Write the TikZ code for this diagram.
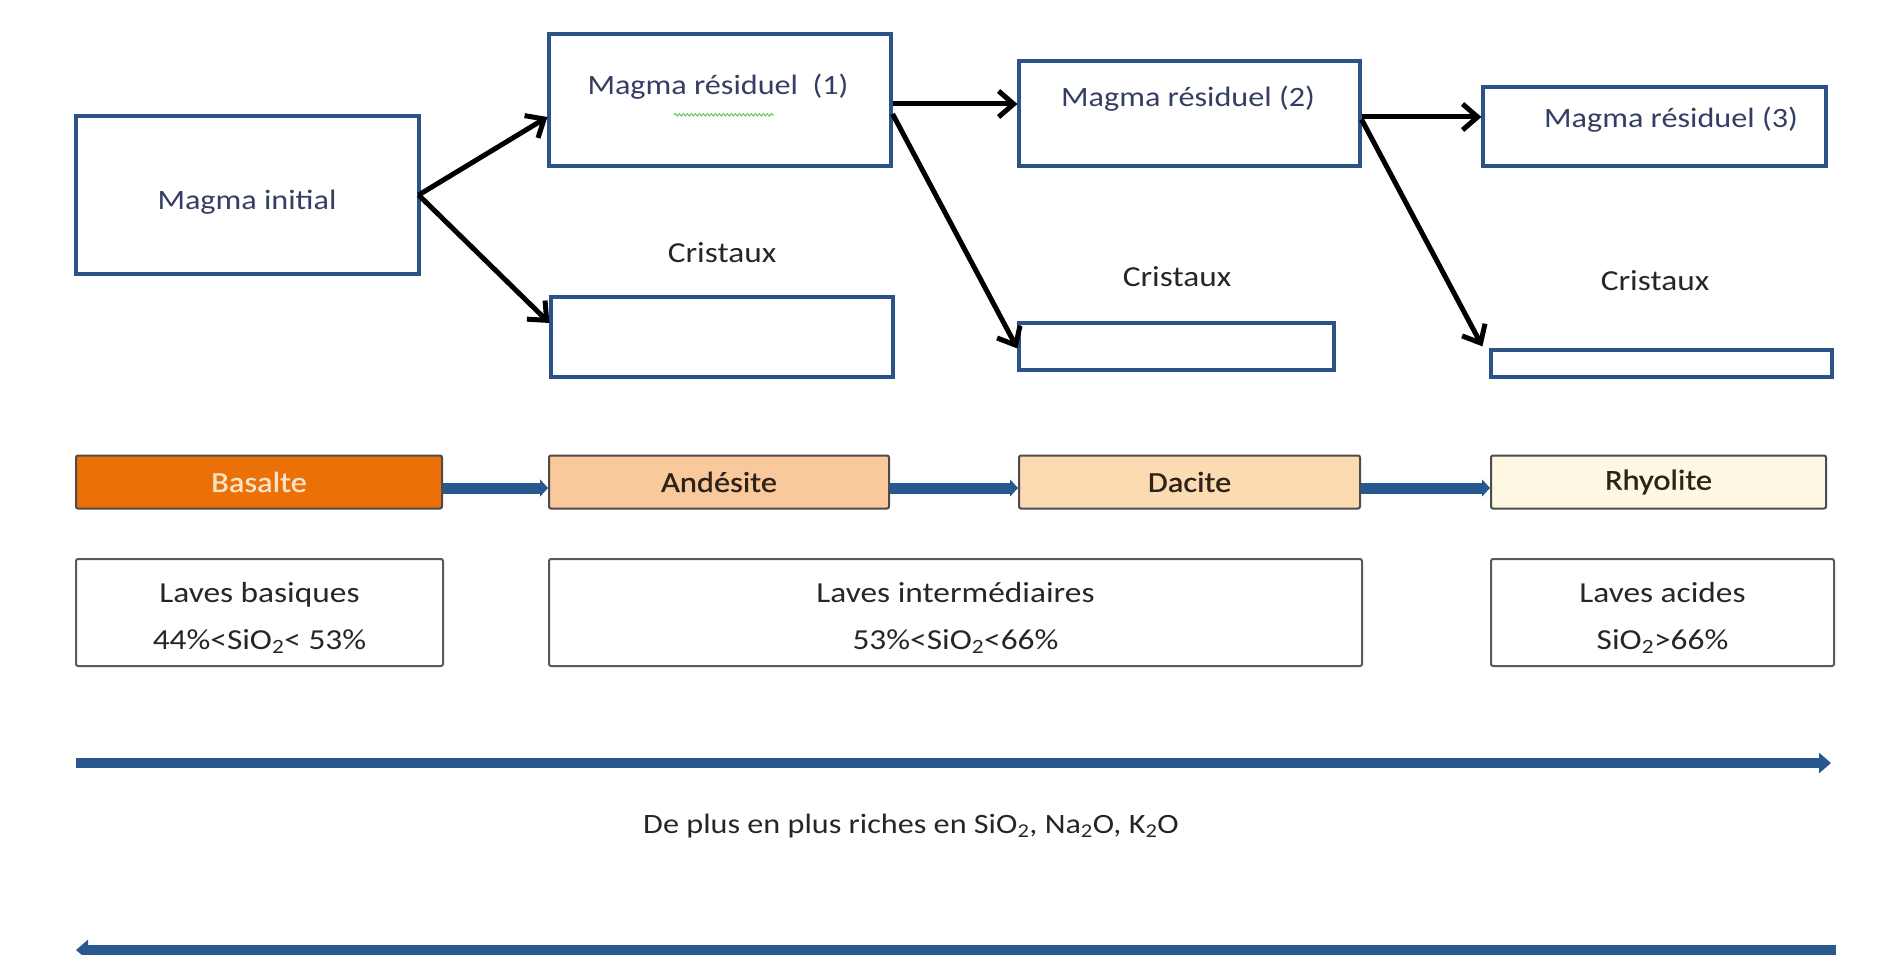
\documentclass[tikz,border=0pt]{standalone}
\usepackage{fontspec}
\setmainfont{Carlito}[FakeStretch=1.15]
\newfontfamily\rockfont{Carlito}[FakeStretch=1.12,FakeBold=0.8]
\usetikzlibrary{arrows.meta,decorations.pathmorphing}
\definecolor{boxblue}{RGB}{44,82,135}
\definecolor{txtblue}{RGB}{52,62,100}
\definecolor{arrblue}{RGB}{41,88,142}
\definecolor{basf}{RGB}{236,112,8}
\definecolor{basT}{RGB}{250,226,196}
\definecolor{andf}{RGB}{249,200,155}
\definecolor{dacf}{RGB}{252,218,178}
\definecolor{rhyf}{RGB}{254,247,226}
\definecolor{rockT}{RGB}{45,35,25}
\tikzset{
  magbox/.style={draw=boxblue,line width=3.2pt,minimum width=#1,inner sep=0pt},
  rockbox/.style={draw=black!70,line width=2pt,rounded corners=2pt,minimum height=53pt,inner sep=0pt,
     font=\rockfont\fontsize{29}{34}\selectfont,text=rockT},
  lavbox/.style={draw=black!65,line width=2pt,rounded corners=2pt,minimum height=107pt,minimum width=#1,inner sep=0pt},
  lavtxt/.style={align=center,font=\fontsize{29}{47}\selectfont,text=black!85,inner sep=0pt},
  magtxt/.style={font=\fontsize{28}{33}\selectfont,text=txtblue,inner sep=0pt},
  crtxt/.style={font=\fontsize{29}{34}\selectfont,text=black!85,inner sep=0pt},
  blk/.style={draw=black,line width=5pt,-{Straight Barb[length=15pt,width=26pt,line width=5pt]}},
  bluearr/.style={draw=arrblue,line width=11pt,-{Triangle[length=8pt,width=17pt]}},
  bigarr/.style={draw=arrblue,line width=10pt},
}
\begin{document}
\begin{tikzpicture}[x=1pt,y=-1pt]
\useasboundingbox (0,0) rectangle (1888,955);
% magma boxes
\node[magbox=343pt,minimum height=158pt] (mi) at (247.5,195) {};
\node[magtxt] (mit) at (247,202) {Magma initial};
\node[magbox=342pt,minimum height=132pt] (mr1) at (720,100) {};
\node[magtxt] (mr1t) at (718,87) {Magma résiduel \ (1)};
\node[magbox=341pt,minimum height=105pt] (mr2) at (1189.5,113.5) {};
\node[magtxt] (mr2t) at (1188,99) {Magma résiduel (2)};
\node[magbox=343pt,minimum height=79pt] (mr3) at (1654.5,126.5) {};
\node[magtxt] (mr3t) at (1671,120) {Magma résiduel (3)};
% spell-check underline
\draw[green!60!black!60,line width=1pt,decorate,decoration={snake,amplitude=1.2pt,segment length=4pt}]
  ([xshift=-44pt,yshift=-15pt]mr1t.south) -- ([xshift=56pt,yshift=-15pt]mr1t.south);
% crystal boxes
\node[magbox=342pt,minimum height=80pt] (cr1) at (722,337) {};
\node[crtxt] (c1t) at (722,253) {Cristaux};
\node[magbox=315pt,minimum height=47pt] (cr2) at (1176.5,346.5) {};
\node[crtxt] (c2t) at (1177,277) {Cristaux};
\node[magbox=341pt,minimum height=27pt] (cr3) at (1661.5,363.5) {};
\node[crtxt] (c3t) at (1655,281) {Cristaux};
% black arrows
\draw[blk] ([xshift=-2pt]mi.east) -- ([yshift=-17pt]mr1.west);
\draw[blk] ([xshift=-2pt]mi.east) -- ([yshift=14pt]cr1.west);
\draw[blk] ([yshift=-4pt]mr1.east) coordinate (a1) -- (a1 -| mr2.west);
\draw[blk] ([yshift=-14pt]mr1.east) -- ([yshift=-2pt]cr2.west);
\draw[blk] ([yshift=-3.5pt]mr2.east) coordinate (a2) -- (a2 -| mr3.west);
\draw[blk] ([yshift=-6pt]mr2.east) -- ([xshift=-7pt,yshift=2pt]cr3.north west);
% rock row
\node[rockbox,fill=basf,text=basT,minimum width=366pt] (bas) at (259,482) {Basalte};
\node[rockbox,fill=andf,minimum width=340pt] (and) at (719,482) {Andésite};
\node[rockbox,fill=dacf,minimum width=341pt] (dac) at (1189.5,482) {Dacite};
\node[rockbox,fill=rhyf,minimum width=335pt] (rhy) at (1658.5,482) {Rhyolite};
\draw[bluearr] ([yshift=-6pt]bas.east) coordinate (b1) -- (b1 -| and.west);
\draw[bluearr] ([yshift=-6pt]and.east) coordinate (b2) -- (b2 -| dac.west);
\draw[bluearr] ([yshift=-6pt]dac.east) coordinate (b3) -- (b3 -| rhy.west);
% lava boxes
\node[lavbox=367pt] (lb) at (259.5,612.5) {};
\node[lavtxt] (lbt) at (259.5,618) {Laves basiques\\44\%<SiO\textsubscript{2}< 53\%};
\node[lavbox=813pt] (li) at (955.5,612.5) {};
\node[lavtxt] (lit) at (955.5,618) {Laves intermédiaires\\53\%<SiO\textsubscript{2}<66\%};
\node[lavbox=343pt] (la) at (1662.5,612.5) {};
\node[lavtxt] (lat) at (1662.5,618) {Laves acides\\SiO\textsubscript{2}>66\%};
% big arrows
\coordinate (g1) at (76,763);
\coordinate (g2) at (1831,763);
\draw[bigarr,-{Triangle[length=12pt,width=20pt]}] (g1) -- (g2);
\node[font=\fontsize{28}{33}\selectfont,text=black!85,inner sep=0pt] (dp) at (911,826) {De plus en plus riches en SiO\textsubscript{2}, Na\textsubscript{2}O, K\textsubscript{2}O};
\coordinate (h1) at (1836,950);
\coordinate (h2) at (76,950);
\draw[bigarr,-{Triangle[length=12pt,width=20pt]}] (h1) -- (h2);
\end{tikzpicture}
\end{document}
